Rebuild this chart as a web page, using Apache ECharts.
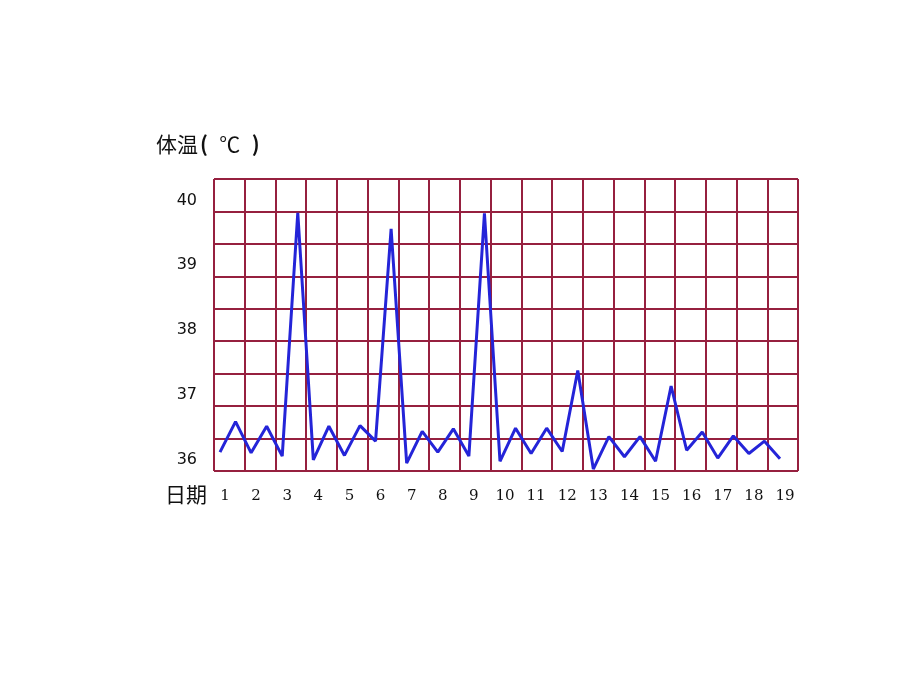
<!DOCTYPE html>
<html>
<head>
<meta charset="utf-8">
<title>体温</title>
<script src="https://cdn.jsdelivr.net/npm/echarts@6/dist/echarts.min.js"></script>
<style>
  html, body { margin: 0; padding: 0; background: #fff; }
  #chart { width: 900px; height: 680px; }
</style>
</head>
<body>
<div id="chart"></div>
<script>
// 日期刻度（每天两个测量点，标签只放在每天的第一个点上）
var days = ['1','2','3','4','5','6','7','8','9','10','11','12','13','14','15','16','17','18','19'];
// 体温读数（℃），按时间顺序
var temps = [
  36.29, 36.76, 36.28, 36.69, 36.23, 39.98, 36.17, 36.69, 36.24, 36.70,
  36.46, 39.73, 36.12, 36.61, 36.29, 36.65, 36.23, 39.97, 36.15, 36.66,
  36.27, 36.66, 36.30, 37.55, 36.03, 36.53, 36.22, 36.53, 36.15, 37.31,
  36.32, 36.60, 36.20, 36.54, 36.27, 36.46, 36.19
];
var yTicks = [36, 37, 38, 39, 40];

(function() {
  var myChart = echarts.init(document.getElementById('chart'));

  // x 轴类目：奇数点标日期，偶数点留空
  var cats = temps.map(function(v, i) {
    return i % 2 === 0 ? days[i / 2] : '';
  });

  var gridColor = '#96203f';

  var option = {
    backgroundColor: '#fff',
    animation: false,
    graphic: [
      {type: 'text', left: 156, top: 134,
        style: {
          text: '{t|体温}{p|(}{t|  ℃  }{p|)}',
          rich: {
            t: {fontSize: 21, fill: '#111', fontFamily: 'Noto Sans CJK SC'},
            p: {fontSize: 21, fill: '#111', fontFamily: 'Noto Sans CJK SC', fontWeight: 'bold', padding: [0, 2]}
          }
        }},
      {type: 'text', left: 165, top: 484,
        style: {text: '日期', fontSize: 21, fill: '#111', fontFamily: 'Noto Sans CJK SC'}}
    ],
    grid: [
      {left: 214, right: 102, top: 179, bottom: 209},   // 格子
      {left: 220, right: 120, top: 179, bottom: 209}    // 折线
    ],
    xAxis: [
      {
        gridIndex: 0, type: 'value', min: 0, max: 19, interval: 1,
        axisLine: {show: false}, axisTick: {show: false}, axisLabel: {show: false},
        splitLine: {show: true, lineStyle: {color: gridColor, width: 2}}
      },
      {
        gridIndex: 1, type: 'category', data: cats, boundaryGap: false,
        axisLine: {show: false}, axisTick: {show: false},
        splitLine: {show: false},
        axisLabel: {
          interval: 0, margin: 18, padding: [0, 0, 0, 10],
          fontSize: 15, color: '#111', fontFamily: 'DejaVu Serif'
        }
      }
    ],
    yAxis: [
      {
        gridIndex: 0, type: 'value', min: 36, max: 40.5, interval: 0.5,
        axisLine: {show: false}, axisTick: {show: false},
        splitLine: {show: true, lineStyle: {color: gridColor, width: 2}},
        axisLabel: {
          margin: 17, fontSize: 16, color: '#111', fontFamily: 'DejaVu Sans',
          verticalAlign: 'bottom', lineHeight: 22,
          formatter: function(v) {
            return yTicks.indexOf(v) >= 0 ? String(v) : '';
          }
        }
      },
      {
        gridIndex: 1, type: 'value', min: 36, max: 40.5, interval: 0.5,
        show: false, splitLine: {show: false}
      }
    ],
    series: [
      {
        name: '体温',
        type: 'line',
        xAxisIndex: 1,
        yAxisIndex: 1,
        data: temps,
        symbol: 'none',
        lineStyle: {color: '#2424d8', width: 3},
        itemStyle: {color: '#2424d8'}
      }
    ]
  };
  myChart.setOption(option);
})();
</script>
</body>
</html>
